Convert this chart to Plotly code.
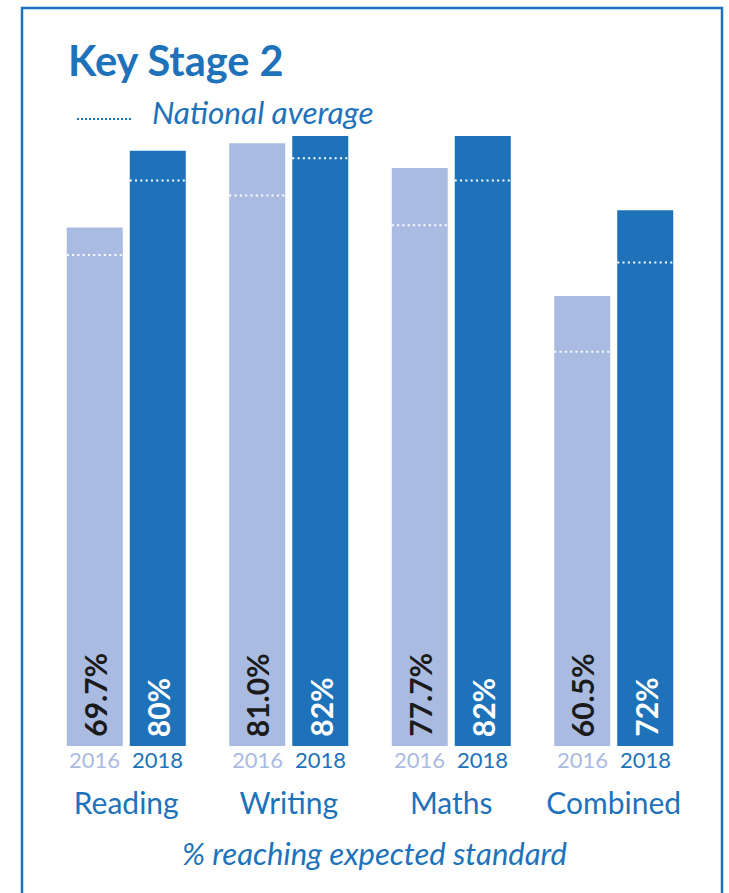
import plotly.graph_objects as go

# Key Stage 2 results: % of pupils reaching the expected standard
subjects = ["Reading", "Writing", "Maths", "Combined"]
years = ["2016", "2018"]
school_2016 = [69.7, 81.0, 77.7, 60.5]
school_2018 = [80, 82, 82, 72]
national_2016 = [66, 74, 70, 53]
national_2018 = [76, 79, 76, 65]

W, H = 729, 893
M_L, M_R, M_T, M_B = 45, 34, 2, 147
BLUE = "#1E72B9"
LIGHT = "#AABBE1"
DARK = "#1b1b1b"
FONT = "Lato"

BARGAP = 0.2246
BARGROUPGAP = 0.111

PLOT_W = W - M_L - M_R
PLOT_H = H - M_T - M_B


def px_x(p):
    # page pixel -> paper x (paper spans the plot area)
    return (p - M_L) / PLOT_W


def px_y(p):
    return (H - M_B - p) / PLOT_H


fig = go.Figure()

series = [
    (school_2016, national_2016, years[0], LIGHT, DARK, "{:.1f}%"),
    (school_2018, national_2018, years[1], BLUE, "white", "{:.0f}%"),
]

group_w = 1 - BARGAP
slot = group_w / 2
bar_w = slot * (1 - BARGROUPGAP)

for k, (vals, nat, yr, col, tcol, fmt) in enumerate(series):
    fig.add_bar(
        x=subjects, y=vals, name=yr,
        marker=dict(color=col, line_width=0),
        hoverinfo="skip",
    )
    for i, (v, n) in enumerate(zip(vals, nat)):
        c = i - group_w / 2 + slot * (k + 0.5)
        # value label written up the foot of the bar
        fig.add_annotation(x=c, y=0, xref="x", yref="y", text=fmt.format(v),
                           showarrow=False, textangle=-90,
                           xanchor="center", yanchor="bottom", yshift=7,
                           font=dict(family=FONT, size=30, color=tcol, weight="bold"))
        # national average marker across the bar
        fig.add_shape(type="line", xref="x", yref="y",
                      x0=c - bar_w / 2, x1=c + bar_w / 2, y0=n, y1=n,
                      line=dict(color="white", width=2, dash="2px,3.3px"))
        # year label under each bar
        fig.add_annotation(x=c, y=0, xref="x", yref="y", text=yr,
                           showarrow=False, yanchor="top", yshift=2,
                           font=dict(family=FONT, size=22, color=col))

# outer frame
fig.add_shape(type="rect", xref="paper", yref="paper",
              x0=px_x(22), x1=px_x(722), y0=px_y(H + 20), y1=px_y(8),
              line=dict(color=BLUE, width=2.5), fillcolor="rgba(0,0,0,0)", layer="below")

# legend key for the national average
fig.add_shape(type="line", xref="paper", yref="paper",
              x0=px_x(77), x1=px_x(132), y0=px_y(119), y1=px_y(119),
              line=dict(color=BLUE, width=2, dash="2px,2px"))
fig.add_annotation(x=px_x(150), y=px_y(112), xref="paper", yref="paper",
                   xanchor="left", yanchor="middle", showarrow=False,
                   text="National average",
                   font=dict(family=FONT, size=31.5, color=BLUE, style="italic"))

fig.add_annotation(x=px_x(374), y=px_y(853), xref="paper", yref="paper",
                   xanchor="center", yanchor="middle", showarrow=False,
                   text="% reaching expected standard",
                   font=dict(family=FONT, size=31, color=BLUE, style="italic"))

fig.update_layout(
    width=W, height=H,
    margin=dict(l=M_L, r=M_R, t=M_T, b=M_B),
    paper_bgcolor="white", plot_bgcolor="white",
    barmode="group", bargap=BARGAP, bargroupgap=BARGROUPGAP,
    showlegend=False,
    title=dict(text="Key Stage 2", x=68 / W, xanchor="left", xref="container",
               y=1 - 61 / H, yanchor="middle", yref="container",
               font=dict(family=FONT, size=41.5, color=BLUE, weight="bold")),
    xaxis=dict(range=[-0.5, 3.5], showgrid=False, showline=False, zeroline=False,
               ticks="outside", ticklen=31, tickcolor="rgba(0,0,0,0)",
               tickfont=dict(family=FONT, size=30, color=BLUE), fixedrange=True),
    yaxis=dict(range=[0, 100], visible=False, fixedrange=True),
)

fig.write_html("out.html", config={"displayModeBar": False})
